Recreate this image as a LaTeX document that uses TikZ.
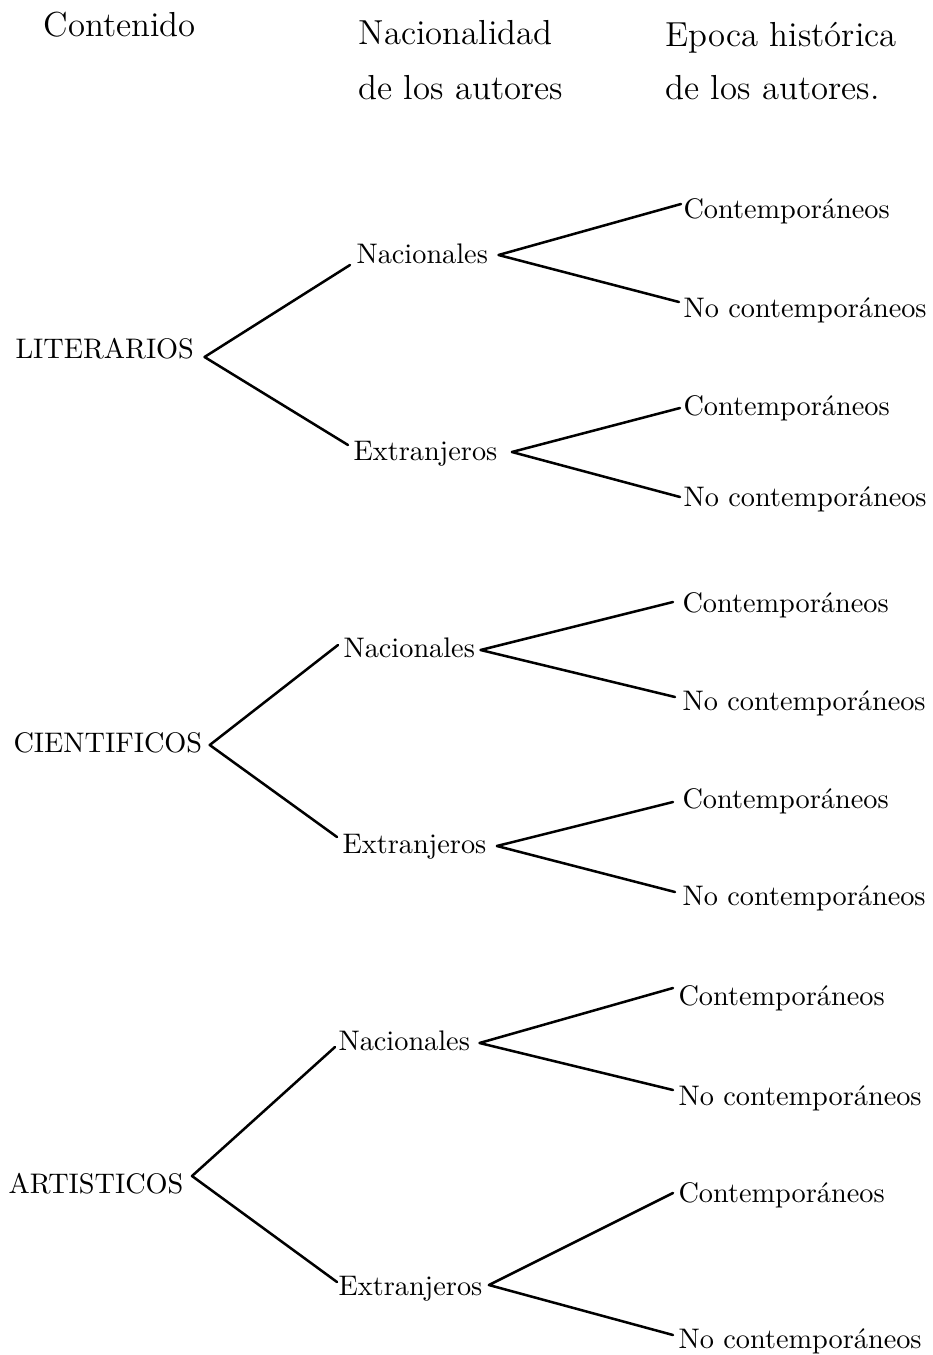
\documentclass[tikz,border=0pt]{standalone}
\usepackage{fontspec}
\usetikzlibrary{calc}
\begin{document}
\begin{tikzpicture}[x=0.357pt,y=-0.357pt,
  lbl/.style={anchor=base west,inner sep=0pt,font=\fontsize{10.1}{12}\selectfont},
  hdr/.style={anchor=base west,inner sep=0pt,font=\fontsize{12.4}{14}\selectfont},
  conn/.style={line width=0.9pt,line cap=round,line join=round}]
\useasboundingbox[fill=white] (0,0) rectangle (933,1355);
% headers
\node[hdr] (h1) at (43,37) {Contenido};
\node[hdr] (h2a) at (358,45) {Nacionalidad};
\node[hdr] (h2b) at (358,100) {de los autores};
\node[hdr] (h3a) at (665,47) {Epoca histórica};
\node[hdr] (h3b) at (665,100) {de los autores.};
% tree 1
\node[lbl] (lit) at (15,358) {LITERARIOS};
\node[lbl] (n1) at (356,263) {Nacionales};
\node[lbl] (e1) at (353,460) {Extranjeros};
\node[lbl] (c1a) at (683,218) {Contemporáneos};
\node[lbl] (x1a) at (683,317) {No contemporáneos};
\node[lbl] (c1b) at (683,415) {Contemporáneos};
\node[lbl] (x1b) at (683,506) {No contemporáneos};
\draw[conn] ($(n1.base west)+(-6,2)$) -- ($(lit.base east)+(10,-1)$) -- ($(e1.base west)+(-5,-15)$);
\draw[conn] ($(c1a.base west)+(-2,-14)$) -- ($(n1.base east)+(10,-8)$) -- ($(x1a.base west)+(-4,-15)$);
\draw[conn] ($(c1b.base west)+(-3,-7)$) -- ($(e1.base east)+(14,-8)$) -- ($(x1b.base west)+(-3,-9)$);
% tree 2
\node[lbl] (cie) at (13,752) {CIENTIFICOS};
\node[lbl] (n2) at (343,657) {Nacionales};
\node[lbl] (e2) at (342,853) {Extranjeros};
\node[lbl] (c2a) at (682,612) {Contemporáneos};
\node[lbl] (x2a) at (682,710) {No contemporáneos};
\node[lbl] (c2b) at (682,808) {Contemporáneos};
\node[lbl] (x2b) at (682,905) {No contemporáneos};
\draw[conn] ($(n2.base west)+(-5,-12)$) -- ($(cie.base east)+(7,-7)$) -- ($(e2.base west)+(-5,-16)$);
\draw[conn] ($(c2a.base west)+(-9,-10)$) -- ($(n2.base east)+(5,-7)$) -- ($(x2a.base west)+(-7,-13)$);
\draw[conn] ($(c2b.base west)+(-9,-6)$) -- ($(e2.base east)+(10,-7)$) -- ($(x2b.base west)+(-7,-13)$);
% tree 3
\node[lbl] (art) at (8,1193) {ARTISTICOS};
\node[lbl] (n3) at (338,1050) {Nacionales};
\node[lbl] (e3) at (338,1295) {Extranjeros};
\node[lbl] (c3a) at (678,1005) {Contemporáneos};
\node[lbl] (x3a) at (678,1105) {No contemporáneos};
\node[lbl] (c3b) at (678,1202) {Contemporáneos};
\node[lbl] (x3b) at (678,1348) {No contemporáneos};
\draw[conn] ($(n3.base west)+(-3,-3)$) -- ($(art.base east)+(8,-17)$) -- ($(e3.base west)+(-1,-13)$);
\draw[conn] ($(c3a.base west)+(-5,-17)$) -- ($(n3.base east)+(9,-7)$) -- ($(x3a.base west)+(-5,-15)$);
\draw[conn] ($(c3b.base west)+(-5,-9)$) -- ($(e3.base east)+(6,-10)$) -- ($(x3b.base west)+(-5,-13)$);
\end{tikzpicture}
\end{document}
